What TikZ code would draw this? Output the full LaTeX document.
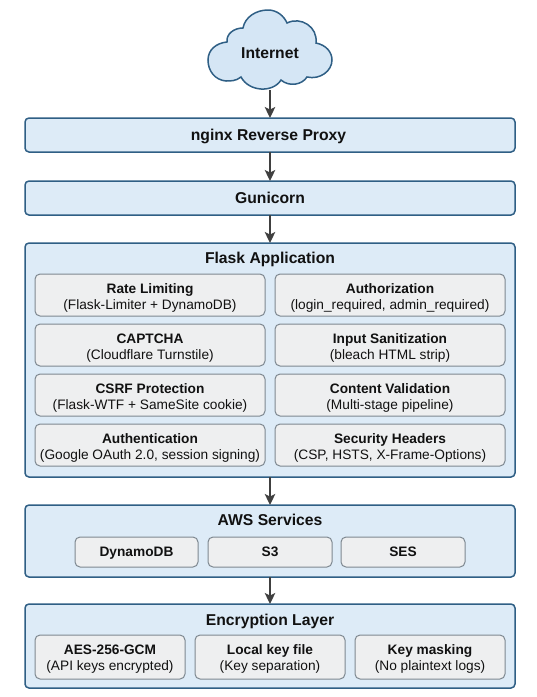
\documentclass[tikz,border=0pt]{standalone}
\usepackage{fontspec}
\setmainfont{Liberation Sans}
\usetikzlibrary{arrows.meta}
\definecolor{edgeblue}{HTML}{2F5F85}
\definecolor{panelfill}{HTML}{DDEBF7}
\definecolor{cardfill}{HTML}{EEEFF0}
\definecolor{cardedge}{HTML}{7E8890}
\definecolor{inkdark}{HTML}{111111}
\definecolor{arrowgrey}{HTML}{404040}
\definecolor{cloudfill}{HTML}{D5E6F5}
\tikzset{
  x=1pt,y=-1pt,
  panel/.style={draw=edgeblue,line width=1.5pt,rounded corners=4pt,fill=panelfill},
  card/.style={draw=cardedge,line width=1pt,rounded corners=5pt,fill=cardfill},
  titletext/.style={font=\bfseries\fontsize{15.7}{18}\selectfont,text=inkdark,inner sep=0pt,anchor=base},
  cardtext/.style={font=\fontsize{13.7}{16.5}\selectfont,text=inkdark,align=center,inner sep=0pt,anchor=base},
  cardhead/.style={font=\bfseries\fontsize{13.7}{16}\selectfont,text=inkdark,inner sep=0pt,anchor=base},
  flow/.style={draw=arrowgrey,line width=1.5pt,-{Stealth[length=11pt,width=10.5pt,inset=2.5pt]}}
}
\newcommand{\panelbox}[5]{\path[panel] (#2,#3) rectangle (#4,#5) coordinate[pos=.5] (#1);
  \coordinate (#1-n) at ({(#2+#4)/2},#3); \coordinate (#1-s) at ({(#2+#4)/2},#5);}
\newcommand{\cardbox}[7]{\path[card] (#1,#2) rectangle (#3,#4);
  \node[cardhead] (#5h) at ({(#1+#3)/2},{#2+19}) {#6};
  \node[cardtext] (#5t) at ({(#1+#3)/2},{#2+35.3}) {#7};}
\begin{document}
\begin{tikzpicture}
\useasboundingbox (0,0) rectangle (537,697);
\fill[white] (0,0) rectangle (537,697);

% cloud
\path[draw=edgeblue,line width=1.5pt,fill=cloudfill]
 (241,77) .. controls (236,81) and (231,81) .. (226,81)
 .. controls (215,80) and (208,71) .. (208,60)
 .. controls (208,50) and (216,43) .. (227,42)
 .. controls (226,34) and (234,28) .. (243,28)
 .. controls (245,17) and (256,10) .. (268,10)
 .. controls (277,10) and (284,16) .. (287,23)
 .. controls (301,16) and (318,27) .. (316,43)
 .. controls (326,45) and (332,52) .. (332,60)
 .. controls (332,71) and (320,80) .. (307,77)
 .. controls (302,85) and (289,87) .. (281,80)
 .. controls (273,93) and (249,92) .. (241,77) -- cycle;
\coordinate (cloudbase) at (270,90);
\node[titletext] (internet) at (270,58) {Internet};

\panelbox{nginx}{25}{118}{515}{152}
\node[titletext] (nginxt) at (268.5,140.7) {nginx Reverse Proxy};
\panelbox{guni}{25}{181}{515}{215}
\node[titletext] (gunit) at (270,203) {Gunicorn};
\panelbox{flask}{25}{243}{515}{477}
\node[titletext] (flaskt) at (270,263) {Flask Application};
\cardbox{35}{274}{265}{316}{a}{Rate Limiting}{(Flask-Limiter + DynamoDB)}
\cardbox{35}{324}{265}{366}{b}{CAPTCHA}{(Cloudflare Turnstile)}
\cardbox{35}{374}{265}{416}{c}{CSRF Protection}{(Flask-WTF + SameSite cookie)}
\cardbox{35}{424}{265}{466}{d}{Authentication}{(Google OAuth 2.0, session signing)}
\cardbox{275}{274}{505}{316}{e}{Authorization}{(login\_required, admin\_required)}
\cardbox{275}{324}{505}{366}{f}{Input Sanitization}{(bleach HTML strip)}
\cardbox{275}{374}{505}{416}{g}{Content Validation}{(Multi-stage pipeline)}
\cardbox{275}{424}{505}{466}{h}{Security Headers}{(CSP, HSTS, X-Frame-Options)}

\panelbox{aws}{25}{505}{515}{577}
\node[titletext] (awst) at (270,525.7) {AWS Services};
\path[card] (75,537) rectangle (198,567);
\node[cardhead] (dyn) at (136.5,556.7) {DynamoDB};
\path[card] (208,537) rectangle (332,567);
\node[cardhead] (sss) at (270,556.7) {S3};
\path[card] (341,537) rectangle (465,567);
\node[cardhead] (ses) at (403,556.7) {SES};

\panelbox{enc}{25}{604}{515}{688}
\node[titletext] (enct) at (270,625) {Encryption Layer};
\cardbox{35}{635}{185}{679}{i}{AES-256-GCM}{(API keys encrypted)}
\cardbox{195}{635}{345}{679}{j}{Local key file}{(Key separation)}
\cardbox{355}{635}{505}{679}{k}{Key masking}{(No plaintext logs)}

\draw[flow] (cloudbase) -- (nginx-n);
\draw[flow] (nginx-s) -- (guni-n);
\draw[flow] (guni-s) -- (flask-n);
\draw[flow] (flask-s) -- (aws-n);
\draw[flow] (aws-s) -- (enc-n);
\end{tikzpicture}
\end{document}
